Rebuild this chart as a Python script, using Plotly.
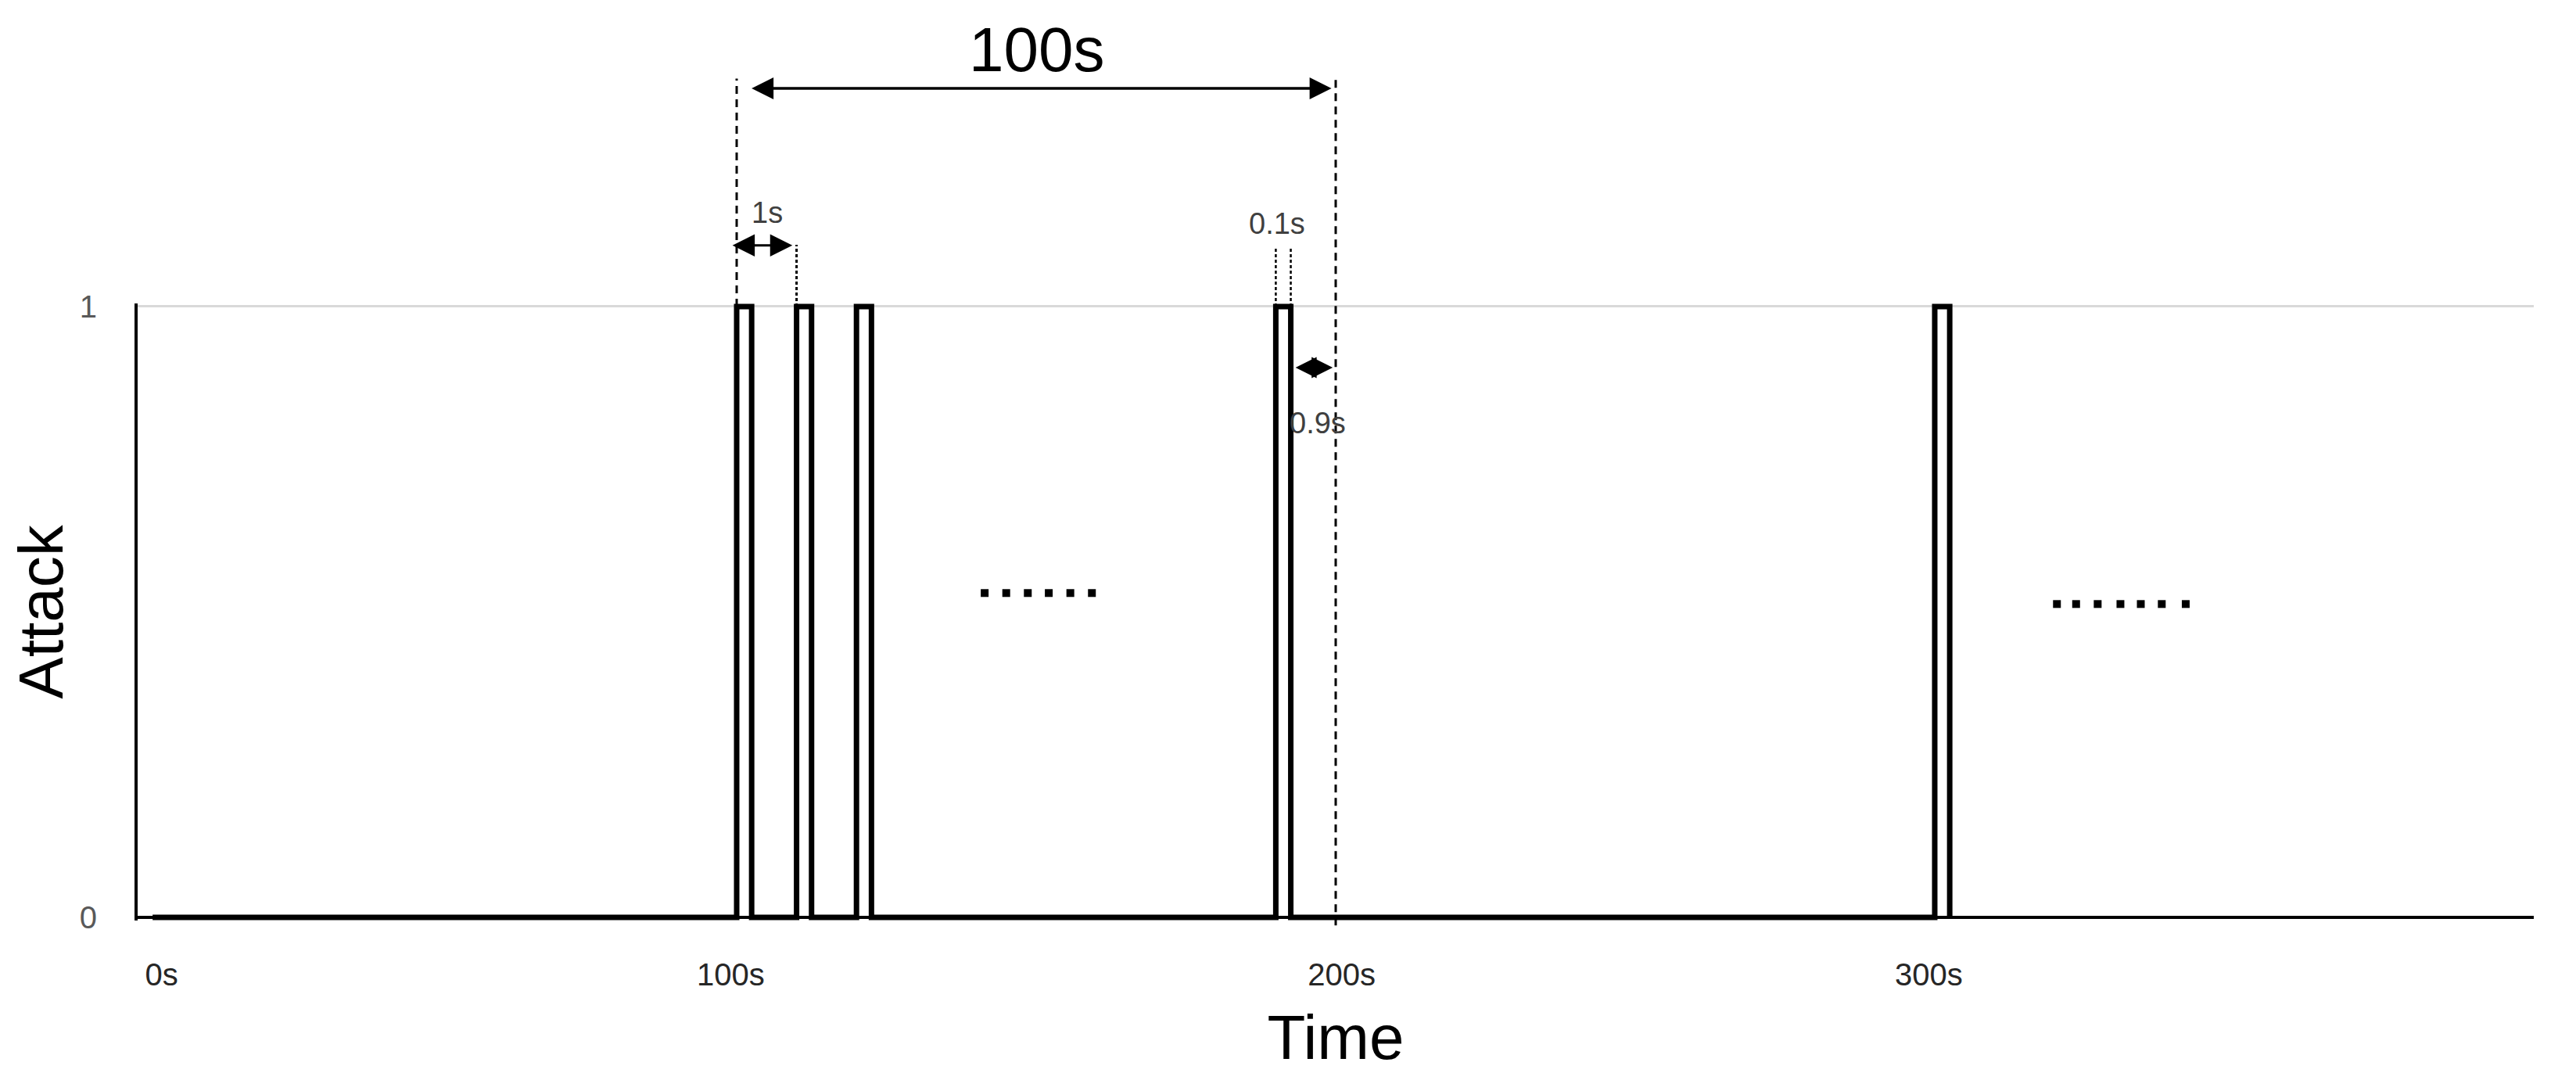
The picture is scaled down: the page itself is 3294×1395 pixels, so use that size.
import plotly.graph_objects as go

# schematic time axis (drawn positions, not to scale)
pulse_inicio = [100, 110, 120, 190, 300]
pulse_ancho = 2.5
senal_inicio = 2.5

tick_pos = [4, 99, 201, 299]
tick_txt = ['0s', '100s', '200s', '300s']

puntos1_x = [141.4, 145.0, 148.6, 152.1, 155.7, 159.3]
puntos1_y = [0.531] * 6
puntos2_x = [320.4, 323.6, 327.2, 331.0, 334.4, 337.9, 341.9]
puntos2_y = [0.513] * 7

x_rango = [0, 400]
y_rango = [-0.005, 1.005]

fuente = 'Liberation Sans'

# step signal
xs = [senal_inicio]
ys = [0]
for s in pulse_inicio:
    xs += [s, s, s + pulse_ancho, s + pulse_ancho]
    ys += [0, 1, 1, 0]

fig = go.Figure()

fig.add_trace(go.Scatter(
    x=xs, y=ys, mode='lines',
    line={'color': 'black', 'width': 7},
    showlegend=False, hoverinfo='skip'
))

fig.add_trace(go.Scatter(
    x=puntos1_x + puntos2_x, y=puntos1_y + puntos2_y, mode='markers',
    marker={'symbol': 'square', 'size': 10, 'color': 'black'},
    showlegend=False, hoverinfo='skip'
))


def py(v):
    return (v - y_rango[0]) / (y_rango[1] - y_rango[0])


def linea(x, y0, y1, dash, w):
    fig.add_shape(type='line', xref='x', yref='paper', x0=x, x1=x, y0=py(y0), y1=py(y1),
                  line={'color': 'black', 'width': w, 'dash': dash}, layer='above')


linea(100, 1, 1.373, '10px,7px', 3)
linea(200, -0.013, 1.373, '10px,7px', 3)
linea(110, 1, 1.101, '4px,3px', 3)
linea(190, 1, 1.097, '4px,3px', 2.5)
linea(192.5, 1, 1.097, '4px,3px', 2.5)


def flecha(x0, x1, y, w, size):
    fig.add_annotation(x=x1, y=py(y), ax=x0, ay=0, xref='x', yref='paper', axref='x', ayref='pixel',
                       text='', showarrow=True, arrowside='end+start',
                       arrowhead=2, startarrowhead=2,
                       arrowwidth=w, arrowsize=size, startarrowsize=size, arrowcolor='black',
                       standoff=0, startstandoff=0)


flecha(102.3, 199.3, 1.357, 3.5, 1.6)
flecha(99.1, 109.3, 1.10, 3, 1.9)
flecha(193.1, 199.5, 0.90, 3, 1.8)


def texto(x, y, t, size, color='#262626'):
    fig.add_annotation(x=x, y=py(y), xref='x', yref='paper', text=t, showarrow=False,
                       xanchor='center', yanchor='middle',
                       font={'family': fuente, 'size': size, 'color': color})


texto(150.1, 1.42, '100s', 80, 'black')
texto(105.1, 1.153, '1s', 38, '#404040')
texto(190.2, 1.136, '0.1s', 38, '#404040')
texto(197.0, 0.809, '0.9s', 38, '#404040')

fig.update_layout(
    width=3294, height=1395,
    margin={'l': 168, 'r': 62, 't': 380, 'b': 226},
    paper_bgcolor='white', plot_bgcolor='white',
    font={'family': fuente},
    showlegend=False,
    xaxis={
        'range': x_rango, 'showgrid': False, 'zeroline': False, 'showline': False,
        'tickvals': tick_pos, 'ticktext': tick_txt, 'ticks': '',
        'tickfont': {'size': 40, 'color': '#262626'},
        'ticklabelstandoff': 42,
        'title': {'text': 'Time', 'font': {'size': 80, 'color': 'black'}, 'standoff': 30},
        'automargin': False
    },
    yaxis={
        'range': y_rango, 'tickvals': [0, 1], 'ticktext': ['0', '1'], 'ticks': '',
        'showgrid': True, 'gridcolor': '#d9d9d9', 'gridwidth': 3,
        'zeroline': True, 'zerolinecolor': 'black', 'zerolinewidth': 4,
        'showline': True, 'linecolor': 'black', 'linewidth': 4,
        'tickfont': {'size': 40, 'color': '#595959'},
        'ticklabelstandoff': 40,
        'title': {'text': 'Attack', 'font': {'size': 80, 'color': 'black'}, 'standoff': 8},
        'automargin': False
    }
)

fig.write_html('out.html')
